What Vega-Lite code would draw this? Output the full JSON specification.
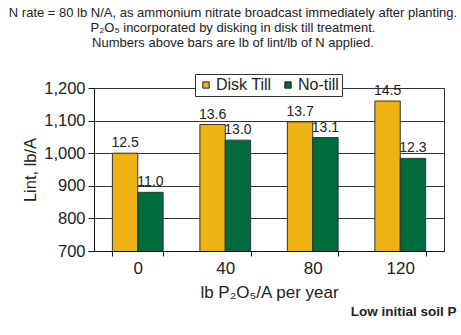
{
  "$schema": "https://vega.github.io/schema/vega-lite/v6.json",
  "width": 350,
  "height": 163,
  "autosize": "none",
  "padding": {"left": 94, "top": 88, "right": 17, "bottom": 84},
  "background": "white",
  "config": {
    "font": "Liberation Sans",
    "view": {"stroke": "#333", "strokeWidth": 1},
    "axis": {"labelColor": "#222", "titleColor": "#222", "domainColor": "#111", "tickColor": "#111", "titleFontWeight": "normal"}
  },
  "title": {
    "text": [
      "N rate = 80 lb N/A, as ammonium nitrate broadcast immediately after planting.",
      "P₂O₅ incorporated by disking in disk till treatment.",
      "Numbers above bars are lb of lint/lb of N applied."
    ],
    "anchor": "middle",
    "fontSize": 13,
    "fontWeight": "normal",
    "color": "#222",
    "lineHeight": 15,
    "offset": 24,
    "dx": -36
  },
  "data": {
    "values": [
      {"rate": "0", "tillage": "Disk Till", "lint": 1000, "label": "12.5"},
      {"rate": "0", "tillage": "No-till", "lint": 880, "label": "11.0"},
      {"rate": "40", "tillage": "Disk Till", "lint": 1088, "label": "13.6"},
      {"rate": "40", "tillage": "No-till", "lint": 1040, "label": "13.0"},
      {"rate": "80", "tillage": "Disk Till", "lint": 1096, "label": "13.7"},
      {"rate": "80", "tillage": "No-till", "lint": 1048, "label": "13.1"},
      {"rate": "120", "tillage": "Disk Till", "lint": 1160, "label": "14.5"},
      {"rate": "120", "tillage": "No-till", "lint": 984, "label": "12.3"}
    ]
  },
  "encoding": {
    "x": {
      "field": "rate",
      "type": "nominal",
      "sort": ["0", "40", "80", "120"],
      "scale": {"paddingInner": 0.42, "paddingOuter": 0.21},
      "axis": {
        "title": "lb P₂O₅/A per year",
        "titleFontSize": 17,
        "titlePadding": 8,
        "labelFontSize": 17,
        "labelAngle": 0,
        "labelPadding": 4,
        "tickBand": "extent",
        "tickSize": 5
      }
    },
    "xOffset": {"field": "tillage", "type": "nominal", "sort": ["Disk Till", "No-till"]},
    "y": {
      "field": "lint",
      "type": "quantitative",
      "scale": {"domain": [700, 1200], "zero": false, "nice": false},
      "axis": {
        "title": "Lint, lb/A",
        "titleFontSize": 16.5,
        "titlePadding": 5,
        "labelFontSize": 16.5,
        "labelPadding": 3,
        "tickSize": 6,
        "values": [700, 800, 900, 1000, 1100, 1200],
        "format": ",.0f",
        "grid": true,
        "gridColor": "#333",
        "gridOpacity": 1
      }
    }
  },
  "layer": [
    {
      "mark": {"type": "bar", "stroke": "#333", "strokeWidth": 1, "clip": true},
      "encoding": {
        "color": {
          "field": "tillage",
          "type": "nominal",
          "sort": ["Disk Till", "No-till"],
          "scale": {"domain": ["Disk Till", "No-till"], "range": ["#EDB214", "#006B3F"]},
          "legend": {
            "title": null,
            "orient": "none",
            "legendX": 101,
            "legendY": -14,
            "direction": "horizontal",
            "fillColor": "white",
            "strokeColor": "#333",
            "padding": 3,
            "symbolType": "square",
            "symbolSize": 40,
            "symbolStrokeColor": "#222",
            "symbolStrokeWidth": 1,
            "symbolOpacity": 1,
            "labelFontSize": 16,
            "labelColor": "#222",
            "labelOffset": 2,
            "columnPadding": 8
          }
        }
      }
    },
    {
      "mark": {"type": "text", "baseline": "alphabetic", "dy": -6, "fontSize": 14, "color": "#222"},
      "encoding": {"text": {"field": "label"}}
    },
    {
      "data": {"values": [{"rate": "120", "tillage": "Disk Till", "lint": 700, "note": "Low initial soil P"}]},
      "mark": {"type": "text", "align": "right", "baseline": "alphabetic", "fontSize": 13.5, "fontWeight": "bold", "color": "#222", "dx": 69, "dy": 65},
      "encoding": {"text": {"field": "note"}}
    }
  ]
}
